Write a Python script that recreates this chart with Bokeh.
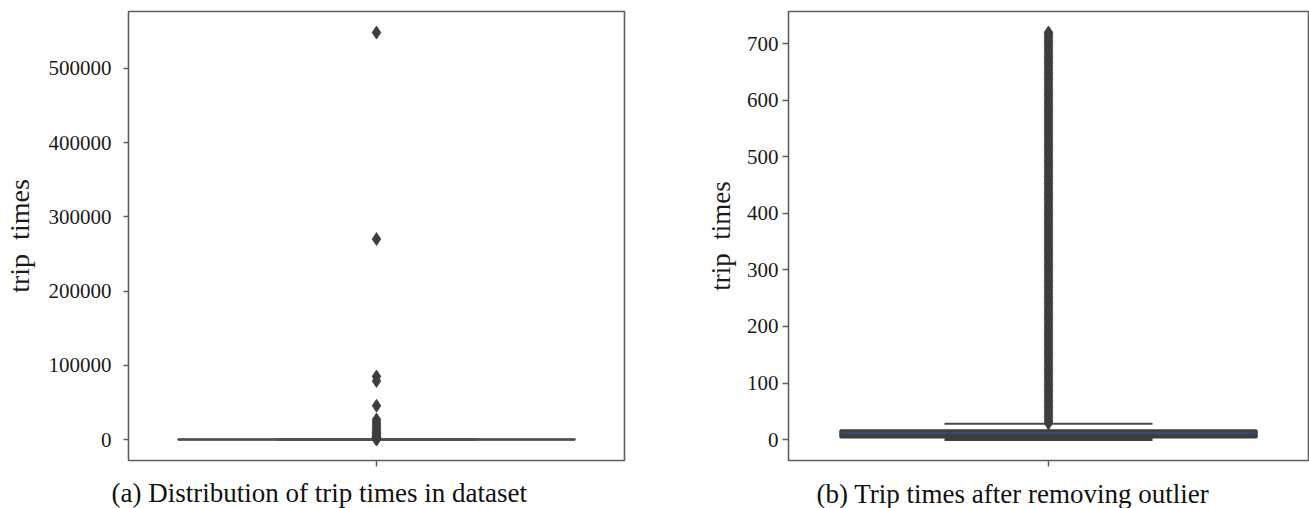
from bokeh.plotting import figure
from bokeh.models import Range1d, FixedTicker, Title, ColumnDataSource, BasicTickFormatter
from bokeh.layouts import row
from bokeh.embed import file_html
from bokeh.resources import INLINE

# ---------------- data ----------------
left_caption = "(a) Distribution of trip times in dataset"
right_caption = "(b) Trip times after removing outlier"
y_label = "trip\u00a0 times"

left_ticks = [0, 100000, 200000, 300000, 400000, 500000]
left_q1 = [4]
left_median = [9]
left_q3 = [16]
left_whisker_lo = [0]
left_whisker_hi = [30]
left_outliers = [548000, 270000, 85000, 79000, 45500, 27000, 24000, 21000, 18000,
                 15000, 12500, 10000, 8000, 6000, 4500, 3000, 2000, 1200, 600, 200]

right_ticks = [0, 100, 200, 300, 400, 500, 600, 700]
right_q1 = [4]
right_median = [8]
right_q3 = [16]
right_whisker_lo = [0]
right_whisker_hi = [28]
right_outliers = [29, 33, 37, 41, 45, 49, 53, 57, 61, 65, 69, 73, 77, 81, 85, 89, 93, 97,
                  101, 105, 109, 113, 117, 121, 125, 129, 133, 137, 141, 145, 149, 153,
                  157, 161, 165, 169, 173, 177, 181, 185, 189, 193, 197, 201, 205, 209,
                  213, 217, 221, 225, 229, 233, 237, 241, 245, 249, 253, 257, 261, 265,
                  269, 273, 277, 281, 285, 289, 293, 297, 301, 305, 309, 313, 317, 321,
                  325, 329, 333, 337, 341, 345, 349, 353, 357, 361, 365, 369, 373, 377,
                  381, 385, 389, 393, 397, 401, 405, 409, 413, 417, 421, 425, 429, 433,
                  437, 441, 445, 449, 453, 457, 461, 465, 469, 473, 477, 481, 485, 489,
                  493, 497, 501, 505, 509, 513, 517, 521, 525, 529, 533, 537, 541, 545,
                  549, 553, 557, 561, 565, 569, 573, 577, 581, 585, 589, 593, 597, 601,
                  605, 609, 613, 617, 621, 625, 629, 633, 637, 641, 645, 649, 653, 657,
                  661, 665, 669, 673, 677, 681, 685, 689, 693, 697, 701, 705, 709, 713,
                  717, 720]

SERIF = "Liberation Serif"
FRAME = "#5e5e5e"


def make_panel(width, height, y_range, ticks, q1, med, q3, lo, hi, outliers,
               caption, cap_offset, box_fill, box_line, cap_color, marker_size,
               mb_left, mb_right, mb_bottom, label_size, tick_standoff, tick_out,
               label_standoff, x_spacer):
    p = figure(width=width, height=height, output_backend="svg", toolbar_location=None,
               x_range=Range1d(-0.5, 0.5), y_range=Range1d(*y_range),
               min_border_left=mb_left, min_border_right=mb_right,
               min_border_top=11, min_border_bottom=mb_bottom)
    p.grid.visible = False
    p.outline_line_color = FRAME
    p.outline_line_width = 1.6
    p.background_fill_color = "white"
    p.border_fill_color = "white"

    # y axis
    ya = p.yaxis[0]
    ya.ticker = FixedTicker(ticks=ticks)
    ya.formatter = BasicTickFormatter(use_scientific=False)
    ya.axis_line_color = None
    ya.major_tick_line_color = FRAME
    ya.major_tick_line_width = 1.5
    ya.major_tick_in = 0
    ya.major_tick_out = tick_out
    ya.minor_tick_line_color = None
    ya.major_label_text_font = SERIF
    ya.major_label_text_font_size = "21px"
    ya.major_label_text_color = "#1a1a1a"
    ya.major_label_standoff = tick_standoff
    ya.axis_label = y_label
    ya.axis_label_text_font = SERIF
    ya.axis_label_text_font_size = label_size
    ya.axis_label_text_font_style = "normal"
    ya.axis_label_text_color = "#1a1a1a"
    ya.axis_label_standoff = label_standoff

    # x axis (single category tick, blank label that only reserves space)
    xa = p.xaxis[0]
    xa.ticker = FixedTicker(ticks=[0])
    xa.major_label_overrides = {0: " "}
    xa.major_label_text_font_size = x_spacer
    xa.major_label_standoff = 0
    xa.axis_line_color = None
    xa.major_tick_line_color = FRAME
    xa.major_tick_line_width = 1.5
    xa.major_tick_in = 0
    xa.major_tick_out = 6
    xa.minor_tick_line_color = None

    src = ColumnDataSource(dict(x=[0], q1=q1, med=med, q3=q3, lo=lo, hi=hi,
                                cl=[-0.2], cr=[0.2], bl=[-0.4], br=[0.4]))
    # whiskers
    p.segment(x0="x", y0="q3", x1="x", y1="hi", source=src, line_color=cap_color, line_width=2)
    p.segment(x0="x", y0="lo", x1="x", y1="q1", source=src, line_color=cap_color, line_width=2)
    # caps
    p.segment(x0="cl", y0="hi", x1="cr", y1="hi", source=src, line_color=cap_color, line_width=2)
    p.segment(x0="cl", y0="lo", x1="cr", y1="lo", source=src, line_color=box_line, line_width=3)
    # box + median
    p.vbar(x="x", width=0.8, bottom="q1", top="q3", source=src,
           fill_color=box_fill, line_color=box_line, line_width=2.5)
    p.segment(x0="bl", y0="med", x1="br", y1="med", source=src, line_color=box_line, line_width=2)

    # outliers
    osrc = ColumnDataSource(dict(x=[0] * len(outliers), y=outliers))
    p.scatter(x="x", y="y", source=osrc, marker="diamond", size=marker_size,
              fill_color="#3e3e3e", line_color="#3e3e3e", line_width=0.8)

    # caption below the plot
    p.add_layout(Title(text=caption, align="left", offset=cap_offset, standoff=0,
                       text_font=SERIF, text_font_size="27px", text_font_style="normal",
                       text_color="#111111"), "below")
    return p


left = make_panel(702, 508, (-28150, 576400), left_ticks,
                  left_q1, left_median, left_q3, left_whisker_lo, left_whisker_hi,
                  left_outliers, left_caption, -17, "#505050", "#505050", "#505050", 13,
                  127, 78, 46, "28px", 12, 5, 11, "5px")
right = make_panel(607, 508, (-37, 757), right_ticks,
                   right_q1, right_median, right_q3, right_whisker_lo, right_whisker_hi,
                   right_outliers, right_caption, 28, "#34506b", "#3d3d3d", "#4a4a4a", 13,
                   86, 1, 48, "27px", 4, 6, 8, "6.5px")

layout = row(left, right)
open("out.html", "w").write(file_html(layout, INLINE))
